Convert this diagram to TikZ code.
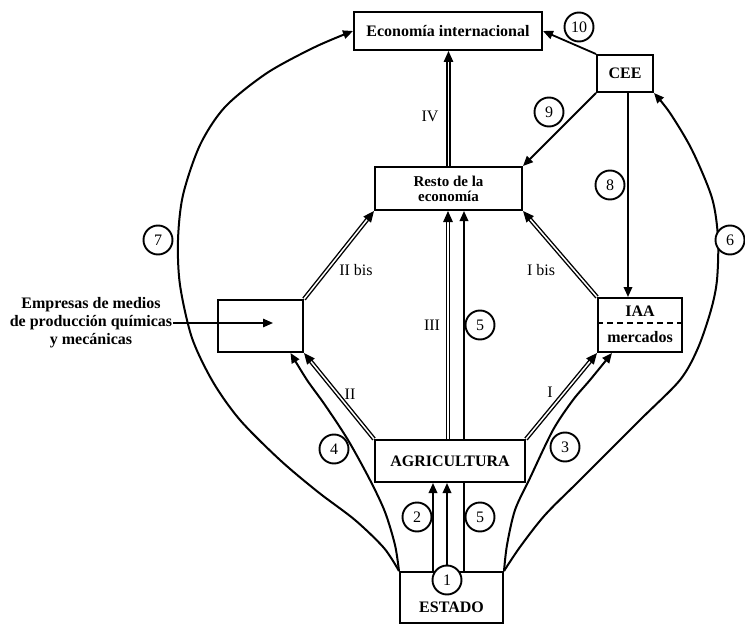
\documentclass[tikz,border=0pt]{standalone}
\usepackage{fontspec}
\setmainfont{Liberation Serif}
\usetikzlibrary{arrows.meta}
\begin{document}
\begin{tikzpicture}[x=1pt,y=-1pt,
  box/.style={draw, line width=2pt, inner sep=0pt},
  btxt/.style={font=\fontsize{16}{18}\selectfont\bfseries, align=center, inner sep=0pt},
  rlab/.style={font=\fontsize{16}{18}\selectfont, inner sep=0pt},
  circ/.style={circle, draw, line width=1.9pt, minimum size=29pt, inner sep=0pt, fill=white, font=\fontsize{16}{16}\selectfont},
  tip/.style={-{Triangle[length=10pt,width=8.5pt]}},
  sarr/.style={line width=1.8pt, tip},
  dbl/.style={double, double distance=1.5pt, line width=1.4pt, -{Triangle[length=11pt,width=9.5pt]}},
  curv/.style={line width=2pt},
]
\useasboundingbox (0,0) rectangle (745,626);

% boxes
\node[box, minimum width=188pt, minimum height=38pt] (econ) at (448,31) {};
\node[btxt] (econt) at (448,31) {Economía internacional};
\node[box, minimum width=56pt, minimum height=37pt] (cee) at (625,73.5) {};
\node[btxt] (ceet) at (625,73.5) {CEE};
\node[box, minimum width=147pt, minimum height=43pt] (resto) at (448.5,188.5) {};
\node[btxt, font=\fontsize{15}{15.5}\selectfont\bfseries] (restot) at (448.5,189) {Resto de la\\economía};
\node[box, minimum width=85pt, minimum height=52pt] (lbox) at (260.5,326) {};
\node[box, minimum width=84pt, minimum height=54pt] (iaa) at (640,325) {};
\node[btxt] (iaat) at (640,311) {IAA};
\node[btxt] (merc) at (640,337) {mercados};
\draw[line width=2pt, dash pattern=on 6pt off 4pt] (iaa.west |- 0,323) -- (iaa.east |- 0,323);
\node[box, minimum width=150pt, minimum height=42pt] (agri) at (450,461) {};
\node[btxt] (agrit) at (450,461) {AGRICULTURA};
\node[box, minimum width=103pt, minimum height=51pt] (estado) at (451.5,597.5) {};
\node[btxt] (estadot) at (451.5,607) {ESTADO};

\node[btxt] (emp) at (91,323) {Empresas de medios\\de producción químicas\\y mecánicas};
\coordinate (qend) at (173,323);
\coordinate (ltip) at (273,323);
\draw[line width=1.5pt, tip] (qend) -- (ltip);

% big curves
\draw[curv, tip] plot[smooth] coordinates {(estado.north west) (384,548) (355,520) (318,492) (280,460) (240,420) (213,382) (192,338) (180,285) (178,240) (183,195) (200,145) (225,107) (267,73) (315,47) (econ.west)};
\draw[curv, tip] plot[smooth] coordinates {(estado.north east) (520,547) (545,515) (580,480) (640,420) (680,380) (698,348) (711,310) (717,280) (718,238) (712,198) (692,150) (670,113) (cee.south east)};
\draw[curv, tip] plot[smooth] coordinates {(estado.north west) (395,545) (385,512) (370,480) (348,440) (325,405) (307,380) ([xshift=30pt]lbox.south)};
\draw[curv, tip] plot[smooth] coordinates {(estado.north east) (507,545) (515,510) (530,478) (553,430) (573,400) (590,380) ([xshift=-28pt]iaa.south)};

% double arrows
\draw[dbl] (lbox.north east) -- (resto.south west);
\draw[dbl] (iaa.north west) -- (resto.south east);
\draw[dbl] (agri.north west) -- (lbox.south east);
\draw[dbl] (agri.north east) -- (iaa.south west);
\draw[dbl] ([xshift=-2pt]agri.north) -- ([xshift=-2pt]agri.north |- resto.south);
\draw[dbl] (resto.north) -- (resto.north |- econ.south);
\draw[sarr] ([xshift=14pt]agri.north) -- ([xshift=14pt]agri.north |- resto.south);

% CEE arrows
\draw[sarr] ([xshift=3pt]cee.south) -- ([xshift=3pt]cee.south |- iaa.north);
\draw[sarr] (cee.south west) -- (resto.north east);
\draw[sarr] (cee.north west) -- (econ.east);

% ESTADO to AGRICULTURA
\node[circ] (c1) at (447,580) {1};
\draw[sarr] ([xshift=-18.5pt]estado.north) -- ([xshift=-18.5pt]estado.north |- agri.south);
\draw[sarr] (c1.north) -- (c1.north |- agri.south);
\draw[line width=1.8pt] ([xshift=12.5pt]estado.north) -- ([xshift=12.5pt]estado.north |- agri.south);

% circled numbers
\node[circ] (c2) at (417,517) {2};
\node[circ] (c3) at (565,447) {3};
\node[circ] (c4) at (334,449) {4};
\node[circ] (c5a) at (480,517) {5};
\node[circ] (c5b) at (480,325) {5};
\node[circ] (c6) at (730,240) {6};
\node[circ] (c7) at (158,240) {7};
\node[circ] (c8) at (610,185) {8};
\node[circ] (c9) at (549,112) {9};
\node[circ] (c10) at (579,27) {10};

% roman labels
\node[rlab] (lIV) at (430,116) {IV};
\node[rlab] (lIII) at (432,325) {III};
\node[rlab] (lIIbis) at (356,270) {II bis};
\node[rlab] (lIbis) at (541,270) {I bis};
\node[rlab] (lII) at (350,394) {II};
\node[rlab] (lI) at (550,392) {I};
\end{tikzpicture}
\end{document}
